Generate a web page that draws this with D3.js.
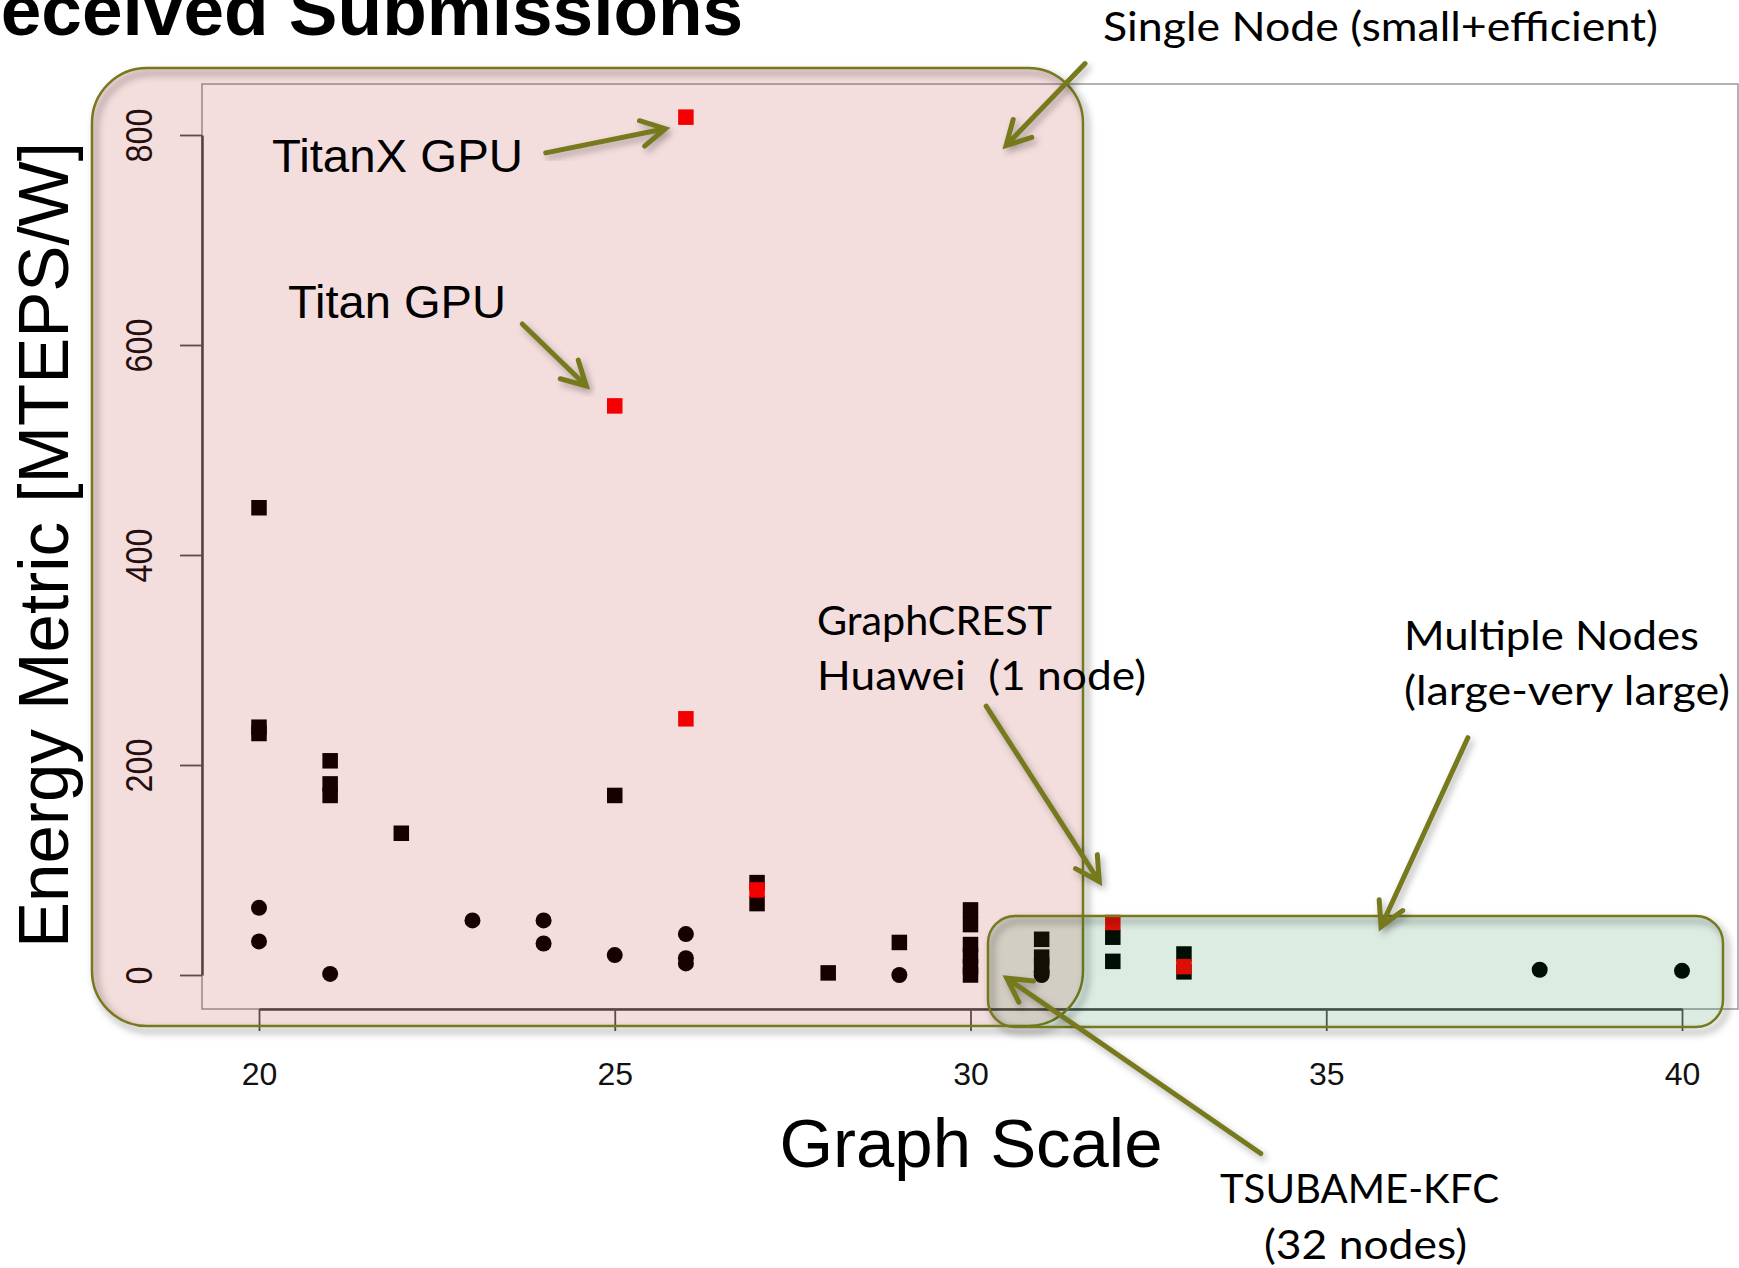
<!DOCTYPE html>
<html>
<head>
<meta charset="utf-8">
<script src="https://cdn.jsdelivr.net/npm/d3@7"></script>
<style>
  body { margin: 0; background: #fff; }
  svg { display: block; }
  text { white-space: pre; }
</style>
</head>
<body>
<svg id="chart" width="1739" height="1268"></svg>
<script>
// values: [graph scale, MTEPS/W]
var blackSquares = [
  [20, 445], [20, 236], [20, 230],
  [21, 204], [21, 182], [21, 171],
  [22, 135], [25, 171],
  [27, 88], [27, 68], [28, 2], [29, 31],
  [30, 62], [30, 48], [30, 29], [30, 18], [30, 8], [30, 0],
  [31, 34], [31, 17], [31, 9],
  [32, 36], [32, 13],
  [33, 20], [33, 3]
];
var blackCircles = [
  [20, 64], [20, 32], [21, 1], [23, 52], [24, 52], [24, 30],
  [25, 19], [26, 39], [26, 16], [26, 11], [29, 0],
  [31, 3], [31, 0], [38, 5], [40, 4]
];
var redSquares = [
  [26, 817], [25, 542], [26, 244], [27, 81], [32, 50], [33, 8]
];
var xTicks = [20, 25, 30, 35, 40];
var yTicks = [0, 200, 400, 600, 800];

// annotation arrows, [from, to] in data units
var arrows = [
  [[24.03, 783], [25.71, 806]],
  [[23.70, 620], [24.60, 561]],
  [[31.61, 868], [30.50, 790]],
  [[30.22, 256], [31.81, 89]],
  [[36.99, 226], [35.77, 46]],
  [[34.08, -170], [30.51, -3]]
];

var svg = d3.select('#chart');
var olive = '#767a1d';

var x = d3.scaleLinear().domain([20, 40]).range([259, 1682]);
var y = d3.scaleLinear().domain([0, 800]).range([975, 135]);

var defs = svg.append('defs');
defs.append('filter').attr('id', 'blur')
    .attr('x', '-10%').attr('y', '-10%').attr('width', '120%').attr('height', '120%')
  .append('feGaussianBlur').attr('stdDeviation', 3.5);

// title, cut off at the left edge like the slide it came from
svg.append('text')
    .attr('x', -52).attr('y', 35)
    .style('font-family', 'Liberation Sans, Arial, sans-serif')
    .style('font-weight', 'bold')
    .style('font-size', '73px')
    .text('Received Submissions');

// plot box
svg.append('rect')
    .attr('x', 202).attr('y', 84).attr('width', 1536).attr('height', 925)
    .attr('fill', 'none').attr('stroke', '#9a9a9a').attr('stroke-width', 1.5);

var yAxis = svg.append('g')
    .attr('transform', 'translate(202,0)')
    .call(d3.axisLeft(y).tickValues(yTicks).tickSize(22).tickSizeOuter(0));
yAxis.selectAll('text')
    .attr('transform', 'rotate(-90)')
    .attr('x', 0).attr('y', -50).attr('dy', 0)
    .attr('text-anchor', 'middle')
    .attr('textLength', function(d) { return String(d).length * 18; })
    .attr('lengthAdjust', 'spacingAndGlyphs');

var xAxis = svg.append('g')
    .attr('transform', 'translate(0,1009)')
    .call(d3.axisBottom(x).tickValues(xTicks).tickSize(22).tickSizeOuter(0));
xAxis.selectAll('text').attr('y', 76).attr('dy', 0);

svg.selectAll('.domain').attr('stroke', '#4a4a4a').attr('stroke-width', 2.5);
svg.selectAll('.tick line').attr('stroke', '#555').attr('stroke-width', 1.8);
svg.selectAll('.tick text')
    .attr('fill', '#111')
    .style('font-family', 'Liberation Sans, Arial, sans-serif')
    .style('font-size', '32px');
yAxis.selectAll('text').style('font-size', '36px');

// axis titles
svg.append('text')
    .attr('transform', 'translate(68,545) rotate(-90)')
    .attr('text-anchor', 'middle')
    .attr('textLength', 806).attr('lengthAdjust', 'spacingAndGlyphs')
    .style('font-family', 'Liberation Sans, Arial, sans-serif')
    .style('font-size', '71px')
    .text('Energy Metric [MTEPS/W]');

svg.append('text')
    .attr('x', 971).attr('y', 1167)
    .attr('text-anchor', 'middle')
    .attr('textLength', 383).attr('lengthAdjust', 'spacingAndGlyphs')
    .style('font-family', 'Liberation Sans, Arial, sans-serif')
    .style('font-size', '68px')
    .text('Graph Scale');

// points
var s = 15.5;
var pts = svg.append('g');
pts.selectAll('rect.b').data(blackSquares).join('rect')
    .attr('class', 'b')
    .attr('x', function(d) { return x(d[0]) - s / 2; })
    .attr('y', function(d) { return y(d[1]) - s / 2; })
    .attr('width', s).attr('height', s)
    .attr('fill', '#000');
pts.selectAll('circle').data(blackCircles).join('circle')
    .attr('cx', function(d) { return x(d[0]); })
    .attr('cy', function(d) { return y(d[1]); })
    .attr('r', 8)
    .attr('fill', '#000');
pts.selectAll('rect.r').data(redSquares).join('rect')
    .attr('class', 'r')
    .attr('x', function(d) { return x(d[0]) - s / 2; })
    .attr('y', function(d) { return y(d[1]) - s / 2; })
    .attr('width', s).attr('height', s)
    .attr('fill', '#ff0000');

// highlight boxes with soft shadows
var boxes = [
  {x: 92, y: 68, w: 991, h: 958, r: 55, fill: 'rgba(175,0,0,0.135)'},
  {x: 988, y: 916, w: 735, h: 111, r: 27, fill: 'rgba(0,112,40,0.134)'}
];
boxes.forEach(function(b) {
    svg.append('rect')
        .attr('x', b.x + 4).attr('y', b.y + 5).attr('width', b.w).attr('height', b.h)
        .attr('rx', b.r)
        .attr('fill', 'none').attr('stroke', '#000').attr('stroke-opacity', 0.28)
        .attr('stroke-width', 5)
        .attr('filter', 'url(#blur)');
});
boxes.forEach(function(b) {
    svg.append('rect')
        .attr('x', b.x).attr('y', b.y).attr('width', b.w).attr('height', b.h)
        .attr('rx', b.r)
        .attr('fill', b.fill)
        .attr('stroke', olive).attr('stroke-width', 2.5);
});

// arrows
var arrowPath = function(a) {
    var x0 = x(a[0][0]), y0 = y(a[0][1]), x1 = x(a[1][0]), y1 = y(a[1][1]);
    var ang = Math.atan2(y1 - y0, x1 - x0);
    var len = 27, spread = 0.5;
    var hx1 = x1 - len * Math.cos(ang - spread), hy1 = y1 - len * Math.sin(ang - spread);
    var hx2 = x1 - len * Math.cos(ang + spread), hy2 = y1 - len * Math.sin(ang + spread);
    return 'M' + x0 + ',' + y0 + 'L' + x1 + ',' + y1 +
        'M' + hx1 + ',' + hy1 + 'L' + x1 + ',' + y1 + 'L' + hx2 + ',' + hy2;
};
var ag = svg.append('g').attr('fill', 'none').attr('stroke-linecap', 'round');
ag.selectAll('path.sh').data(arrows).join('path')
    .attr('class', 'sh')
    .attr('d', arrowPath)
    .attr('transform', 'translate(3,4)')
    .attr('stroke', '#000').attr('stroke-opacity', 0.3).attr('stroke-width', 5)
    .attr('filter', 'url(#blur)');
ag.selectAll('path.ar').data(arrows).join('path')
    .attr('class', 'ar')
    .attr('d', arrowPath)
    .attr('stroke', olive).attr('stroke-width', 5);

// annotation labels
var notes = [
  {t: 'TitanX GPU', x: 272, y: 172, w: 251, f: 'sans'},
  {t: 'Titan GPU', x: 288, y: 318, w: 218, f: 'sans'},
  {t: 'Single Node (small+efficient)', x: 1103, y: 41, w: 555},
  {t: 'GraphCREST', x: 817, y: 635, w: 235},
  {t: 'Huawei  (1 node)', x: 817, y: 690, w: 329},
  {t: 'Multiple Nodes', x: 1404, y: 650, w: 295},
  {t: '(large-very large)', x: 1404, y: 705, w: 326},
  {t: 'TSUBAME-KFC', x: 1220, y: 1203, w: 279},
  {t: '(32 nodes)', x: 1264, y: 1259, w: 203}
];
svg.append('g').selectAll('text').data(notes).join('text')
    .attr('x', function(d) { return d.x; })
    .attr('y', function(d) { return d.y; })
    .attr('textLength', function(d) { return d.w; })
    .attr('lengthAdjust', 'spacingAndGlyphs')
    .style('font-family', function(d) {
        return d.f === 'sans' ? 'Liberation Sans, Arial, sans-serif' : 'Lato, Open Sans, sans-serif';
    })
    .style('font-size', function(d) { return d.f === 'sans' ? '47px' : '40px'; })
    .text(function(d) { return d.t; });
</script>
</body>
</html>
